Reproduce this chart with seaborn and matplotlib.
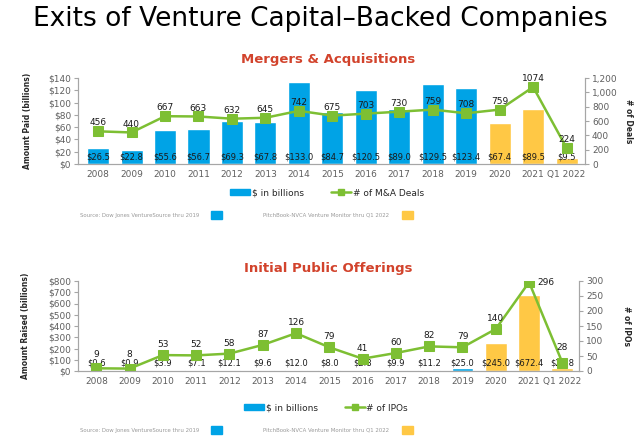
import numpy as np
import matplotlib
matplotlib.use("Agg")
import matplotlib.pyplot as plt
from matplotlib.patches import Patch, Rectangle
from matplotlib.lines import Line2D
import seaborn as sns

years = ['2008', '2009', '2010', '2011', '2012', '2013', '2014', '2015',
         '2016', '2017', '2018', '2019', '2020', '2021', 'Q1 2022']
ma_amount = [26.5, 22.8, 55.6, 56.7, 69.3, 67.8, 133.0, 84.7,
             120.5, 89.0, 129.5, 123.4, 67.4, 89.5, 9.5]
ma_deals = [456, 440, 667, 663, 632, 645, 742, 675,
            703, 730, 759, 708, 759, 1074, 224]
ipo_amount = [0.6, 0.9, 3.9, 7.1, 12.1, 9.6, 12.0, 8.0,
              2.8, 9.9, 11.2, 25.0, 245.0, 672.4, 23.8]
ipo_count = [9, 8, 53, 52, 58, 87, 126, 79,
             41, 60, 82, 79, 140, 296, 28]
# first 12 years from Dow Jones, rest from PitchBook-NVCA
n_dowjones = 12

BLUE = '#00a3e6'
YELLOW = '#ffc845'
GREEN = '#7dbf33'
RED = '#d2432c'
GRAY = '#a6a6a6'
TXT = '#5f5f5f'

sns.set_style('white')
plt.rcParams['font.family'] = ['DejaVu Sans']

palette = {y: (BLUE if i < n_dowjones else YELLOW) for i, y in enumerate(years)}

W, H = 640, 440
fig = plt.figure(figsize=(6.4, 4.4), dpi=100)


def px(x0, y0, x1, y1):
    return [x0 / W, 1 - y1 / H, (x1 - x0) / W, (y1 - y0) / H]


def panel(rect, xlim, amounts, counts, lmax, lstep, rmax, rstep,
          bar_lab_y, cnt_off, special):
    ax = fig.add_axes(rect)
    sns.barplot(x=years, y=amounts, hue=years, palette=palette, legend=False,
                width=0.66, saturation=1, ax=ax)
    ax.set_xlim(*xlim)
    ax.set_ylim(0, lmax)
    ax.set_yticks(np.arange(0, lmax + 1, lstep))
    ax.set_yticklabels([f'${v:,.0f}' for v in np.arange(0, lmax + 1, lstep)])
    for i, v in enumerate(amounts):
        ax.text(i, bar_lab_y, f'${v:.1f}', ha='center', va='center',
                fontsize=6, color='#1a1a1a')

    ax2 = ax.twinx()
    sns.lineplot(x=np.arange(len(years)), y=counts, color=GREEN, lw=1.8,
                 marker='s', markersize=6.5, markeredgecolor=GREEN, ax=ax2)
    ax2.set_ylim(0, rmax)
    ax2.set_yticks(np.arange(0, rmax + 1, rstep))
    ax2.set_yticklabels([f'{v:,.0f}' for v in np.arange(0, rmax + 1, rstep)])
    ax2.set_xlim(*xlim)
    for i, c in enumerate(counts):
        off, ha = special.get(i, ((0, cnt_off), 'center'))
        ax2.annotate(str(c), (i, c), xytext=off, textcoords='offset points',
                     ha=ha, va='center', fontsize=6.5, color='#1a1a1a')

    ax.set_xticks(range(len(years)))
    ax.set_xticklabels(years)
    ax.set_xticks(np.arange(-0.5, len(years), 1), minor=True)
    ax.tick_params(axis='x', which='major', length=0, labelsize=6.5,
                   labelcolor=TXT, pad=4)
    ax.tick_params(axis='x', which='minor', length=3, color=GRAY)
    ax.tick_params(axis='y', length=3, color=GRAY, labelsize=6.5,
                   labelcolor=TXT, left=True, pad=2)
    ax2.tick_params(axis='y', length=3, color=GRAY, labelsize=6.5,
                    labelcolor=TXT, right=True, pad=2)
    for a in (ax, ax2):
        a.set_xlabel('')
        a.set_ylabel('')
        a.spines['top'].set_visible(False)
        for s in ('left', 'right', 'bottom'):
            a.spines[s].set_color(GRAY)
            a.spines[s].set_linewidth(0.8)
    return ax, ax2


# title
fig.text(0.5, 1 - 19 / H, 'Exits of Venture Capital\u2013Backed Companies',
         ha='center', va='center', fontsize=19, color='black')

# M&A panel
fig.text(328 / W, 1 - 60 / H, 'Mergers & Acquisitions', ha='center',
         va='center', fontsize=9.5, fontweight='bold', color=RED)
panel(px(78, 78, 585, 164), (-0.6, 14.55), ma_amount, ma_deals,
      140, 20, 1200, 200, 12, 6, {})
fig.text(28 / W, 1 - 121 / H, 'Amount Paid (billions)', rotation=90,
         ha='center', va='center', fontsize=5.5, fontweight='bold')
fig.text(628 / W, 1 - 121 / H, '# of Deals', rotation=270,
         ha='center', va='center', fontsize=5.5, fontweight='bold')

# IPO panel
fig.text(328 / W, 1 - 268 / H, 'Initial Public Offerings', ha='center',
         va='center', fontsize=9.5, fontweight='bold', color=RED)
panel(px(78, 281, 579, 371), (-0.55, 14.45), ipo_amount, ipo_count,
      800, 100, 300, 50, 75, 7.5,
      {0: ((0, 10), 'center'), 1: ((0, 10), 'center'),
       13: ((6, 0), 'left'), 14: ((0, 11), 'center')})
fig.text(26 / W, 1 - 326 / H, 'Amount Raised (billions)', rotation=90,
         ha='center', va='center', fontsize=5.5, fontweight='bold')
fig.text(627 / W, 1 - 326 / H, '# of IPOs', rotation=270,
         ha='center', va='center', fontsize=5.5, fontweight='bold')


def legend_and_source(y_leg, y_src, cx, count_label):
    handles = [Patch(color=BLUE, label='$ in billions'),
               Line2D([], [], color=GREEN, lw=1.8, marker='s', markersize=4,
                      label=count_label)]
    fig.legend(handles=handles, loc='center', bbox_to_anchor=(cx / W, 1 - y_leg / H),
               ncol=2, frameon=False, fontsize=6.5, handlelength=2.2,
               handleheight=0.6, columnspacing=3, handletextpad=0.2)
    fig.text(80 / W, 1 - y_src / H, 'Source: Dow Jones VentureSource thru 2019',
             ha='left', va='center', fontsize=3.9, color='#9a9a9a')
    fig.add_artist(Rectangle((211 / W, 1 - (y_src + 4) / H), 11 / W, 8 / H,
                             color=BLUE, transform=fig.transFigure))
    fig.text(263 / W, 1 - y_src / H, 'PitchBook-NVCA Venture Monitor thru Q1 2022',
             ha='left', va='center', fontsize=3.9, color='#9a9a9a')
    fig.add_artist(Rectangle((402 / W, 1 - (y_src + 4) / H), 11 / W, 8 / H,
                             color=YELLOW, transform=fig.transFigure))


legend_and_source(193, 215, 327, '# of M&A Deals')
legend_and_source(408, 430, 326, '# of IPOs')

fig.savefig('out.png', dpi=100)
